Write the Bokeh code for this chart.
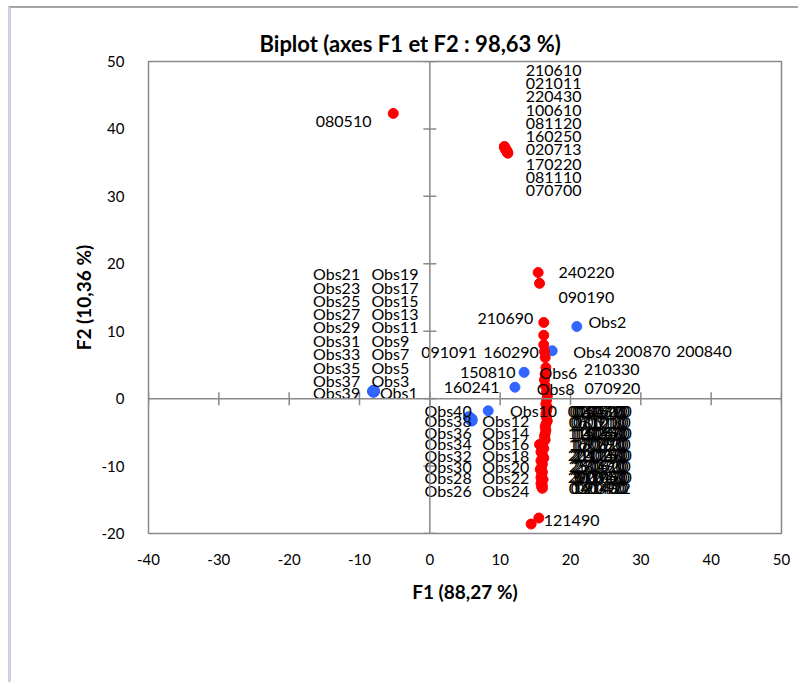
from bokeh.plotting import figure
from bokeh.models import ColumnDataSource, Span, FixedTicker, Range1d
from bokeh.core.properties import value
from bokeh.embed import file_html
from bokeh.resources import INLINE

# ---------------- data ----------------
x_ticks = [-40, -30, -20, -10, 0, 10, 20, 30, 40, 50]
y_ticks = [-20, -10, 0, 10, 20, 30, 40, 50]

# red points (numeric codes)
red_labels = [
    "080510",
    "210610", "021011", "220430", "100610", "081120",
    "160250", "020713", "170220", "081110", "070700",
    "240220", "090190", "210690",
    "091091", "160290", "200870", "200840", "210330", "070920", "150810", "160241",
    "010410", "020520", "030610", "040710", "050820", "060910", "071010", "081210",
    "100130", "110240", "120350", "130460", "140570", "150680", "160790", "170810",
    "180920", "191030", "201140", "211250", "220160", "230270", "240380", "250490",
    "260510", "270620", "280730", "290840", "300950", "311060", "010170", "020280",
    "030390", "040400", "121480", "090422",
    "121490",
]
red_x = [
    -5.2,
    10.6, 10.6, 10.7, 10.7, 10.8, 10.8, 10.9, 11.0, 11.0, 11.1,
    15.4, 15.6, 16.2,
    16.2, 16.2, 16.3, 16.4, 16.5, 16.4, 16.3, 16.4,
    16.6, 16.7, 16.6, 16.5, 16.7, 16.6, 16.5, 16.6, 16.7, 16.5, 16.4, 16.5,
    16.4, 16.3, 16.4, 16.1, 15.9, 16.2, 15.8, 16.0, 16.2, 15.8, 16.0, 15.9,
    15.7, 16.0, 15.9, 15.8, 16.1, 15.9, 15.8, 16.0, 15.9, 16.0, 15.6, 14.4,
    15.5,
]
red_y = [
    42.3,
    37.4, 37.3, 37.2, 37.1, 37.0, 36.9, 36.8, 36.7, 36.5, 36.4,
    18.7, 17.1, 11.3,
    9.4, 8.0, 7.0, 6.1, 4.6, 3.6, 2.8, 1.9,
    1.0, 0.4, -0.2, -0.8, -1.3, -1.8, -2.3, -2.8, -3.3, -3.8, -4.2, -4.7,
    -5.2, -5.6, -6.1, -6.5, -7.0, -7.4, -7.9, -8.3, -8.8, -9.2, -9.7, -10.1,
    -10.5, -10.9, -11.3, -11.7, -12.0, -12.3, -12.6, -12.9, -13.1, -13.3, -6.8, -18.6,
    -17.7,
]

# blue points (Obs)
blue_labels = ["Obs%d" % i for i in range(1, 41)]
blue_x = [
    -8.0, 20.9, -8.1, 17.4, -7.9, 13.4, -8.0, 12.1, -8.1, 8.3,
    -8.0, 5.6, -7.9, 5.7, -8.0, 5.8, -8.1, 5.9, -8.0, 6.0,
    -7.9, 5.6, -8.0, 5.7, -8.1, 5.8, -8.0, 5.9, -7.9, 6.0,
    -8.0, 5.5, -8.1, 5.6, -8.0, 5.7, -7.9, 6.0, -8.0, 5.5,
]
blue_y = [
    1.1, 10.7, 1.0, 7.1, 1.2, 3.9, 1.0, 1.7, 1.2, -1.8,
    1.1, -2.7, 1.0, -2.8, 1.2, -2.9, 1.1, -3.0, 1.0, -3.2,
    1.1, -2.8, 1.2, -3.0, 1.0, -3.1, 1.1, -3.3, 1.2, -3.0,
    1.0, -2.7, 1.1, -2.9, 1.2, -3.1, 1.0, -3.3, 1.1, -2.8,
]

# ---------------- label layout (data units) ----------------
layout = {
    "080510": (-8.3, 41.1, "right"),
    "240220": (18.3, 18.7, "left"),
    "090190": (18.3, 15.0, "left"),
    "210690": (14.7, 11.9, "right"),
    "091091": (6.7, 6.9, "right"),
    "160290": (15.5, 6.85, "right"),
    "200870": (26.3, 7.0, "left"),
    "200840": (35.0, 7.0, "left"),
    "210330": (21.9, 4.3, "left"),
    "070920": (22.0, 1.55, "left"),
    "150810": (12.2, 3.9, "right"),
    "160241": (9.9, 1.6, "right"),
    "121490": (16.2, -18.1, "left"),
    "Obs2": (22.55, 11.5, "left"),
    "Obs4": (20.4, 7.0, "left"),
    "Obs6": (15.6, 3.95, "left"),
    "Obs8": (15.2, 1.45, "left"),
    "Obs10": (11.4, -1.75, "left"),
    "Obs1": (-7.1, 0.95, "left"),
}
cluster_rows = [48.66, 46.69, 44.85, 42.73, 40.84, 38.87, 36.90, 34.72, 32.83, 30.86]
for name, ly in zip(red_labels[1:11], cluster_rows):
    layout[name] = (17.6, ly, "center")

odd_rows = [18.5, 16.5, 14.55, 12.6, 10.7, 8.6, 6.65, 4.65, 2.75, 0.95]
col1 = ["Obs21", "Obs23", "Obs25", "Obs27", "Obs29", "Obs31", "Obs33", "Obs35", "Obs37", "Obs39"]
col2 = ["Obs19", "Obs17", "Obs15", "Obs13", "Obs11", "Obs9", "Obs7", "Obs5", "Obs3"]
for n, ly in zip(col1, odd_rows):
    layout[n] = (-16.6, ly, "left")
for n, ly in zip(col2, odd_rows):
    layout[n] = (-8.3, ly, "left")

even_rows = [-1.75, -3.25, -4.98, -6.7, -8.44, -10.03, -11.66, -13.63]
ecol1 = ["Obs40", "Obs38", "Obs36", "Obs34", "Obs32", "Obs30", "Obs28", "Obs26"]
ecol2 = ["Obs12", "Obs14", "Obs16", "Obs18", "Obs20", "Obs22", "Obs24"]
for n, ly in zip(ecol1, even_rows):
    layout[n] = (-0.75, ly, "left")
for n, ly in zip(ecol2, even_rows[1:]):
    layout[n] = (7.45, ly, "left")

mess = red_labels[22:58]
mess_rows = [-1.93, -3.57, -5.2, -6.8, -8.5, -10.1, -11.7, -13.3]
mess_cols = [19.6, 19.9, 20.2, 20.5, 20.8]
counts = [5, 4, 5, 4, 5, 4, 5, 4]
k = 0
for r, c in enumerate(counts):
    for j in range(c):
        layout[mess[k]] = (mess_cols[j] if c == 5 else mess_cols[j] + 0.15, mess_rows[r], "left")
        k += 1

# ---------------- figure ----------------
FONT = "Lato"
GRAY = "#898989"

p = figure(width=790, height=676, output_backend="svg", toolbar_location=None,
           x_range=Range1d(-40, 50), y_range=Range1d(-20, 50),
           min_border_left=137, min_border_right=20, min_border_top=53, min_border_bottom=151,
           margin=(6, 0, 0, 8),
           title="Biplot (axes F1 et F2 : 98,63 %)")
p.styles = {"border-left": "3px solid #d8cbe8", "border-top": "2px solid #a6a6a6"}

p.title.text_font = FONT
p.title.text_font_size = "22px"
p.title.text_font_style = "bold"
p.title.text_color = "black"
p.title.align = "left"
p.title.offset = 111
p.title.standoff = 9

p.outline_line_color = GRAY
p.outline_line_width = 1.5
p.grid.visible = False
p.background_fill_color = "white"
p.border_fill_color = "white"

for ax, ticks in ((p.xaxis[0], x_ticks), (p.yaxis[0], y_ticks)):
    ax.ticker = FixedTicker(ticks=ticks)
    ax.major_label_overrides = {t: str(t) for t in ticks}
    ax.axis_line_color = None
    ax.major_tick_line_color = None
    ax.minor_tick_line_color = None
    ax.major_label_text_font = FONT
    ax.major_label_text_font_size = "15px"
    ax.major_label_text_color = "black"
    ax.axis_label_text_font = FONT
    ax.axis_label_text_font_size = "19px"
    ax.axis_label_text_font_style = "bold"
    ax.axis_label_text_color = "black"

p.xaxis.axis_label = "F1 (88,27 %)"
p.yaxis.axis_label = "F2 (10,36 %)"
p.xaxis.major_label_standoff = 14
p.yaxis.major_label_standoff = 18
p.xaxis.axis_label_standoff = 12
p.yaxis.axis_label_standoff = 4

# axes through the origin
p.add_layout(Span(location=0, dimension="height", line_color=GRAY, line_width=1.5))
p.add_layout(Span(location=0, dimension="width", line_color=GRAY, line_width=1.5))
p.scatter(x=[0] * len(y_ticks), y=y_ticks, marker="dash", size=13,
          line_color=GRAY, line_width=1.5)
p.scatter(x=x_ticks, y=[0] * len(x_ticks), marker="dash", angle=1.5708, size=13,
          line_color=GRAY, line_width=1.5)

# points
p.scatter(x=blue_x, y=blue_y, size=10, fill_color="#3366ff", line_color="#3366ff")
p.scatter(x=red_x, y=red_y, size=10, fill_color="#ff0000", line_color="#ff0000")

# labels
all_labels = red_labels + blue_labels
for align in ("left", "right", "center"):
    xs, ys, ts = [], [], []
    for name in all_labels:
        if name in layout and layout[name][2] == align:
            lx, ly, _ = layout[name]
            xs.append(lx); ys.append(ly); ts.append(name)
    src = ColumnDataSource(dict(x=xs, y=ys, text=ts))
    p.text(x="x", y="y", text="text", source=src, text_align=align,
           text_baseline="middle", text_font=value(FONT), text_font_size="16px",
           text_color="black")

open("out.html", "w").write(file_html(p, INLINE))
